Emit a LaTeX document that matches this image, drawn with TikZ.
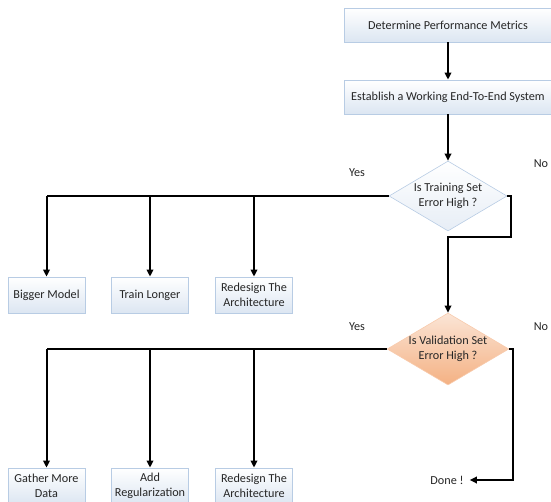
\documentclass[tikz,border=0pt]{standalone}
\usepackage{fontspec}
\setmainfont{Carlito}
\usetikzlibrary{shapes.geometric,positioning,arrows.meta}

\definecolor{boxline}{HTML}{B8CCE4}
\definecolor{boxfill}{HTML}{DCE6F2}
\definecolor{peachtop}{HTML}{FBE5D6}
\definecolor{peachbot}{HTML}{F4B183}
\definecolor{peachline}{HTML}{F8CBAD}
\definecolor{ink}{HTML}{262626}

\tikzset{
  stage/.style={rectangle,draw=boxline,line width=0.8pt,top color=white,bottom color=boxfill,
    minimum width=208pt,minimum height=34pt,inner sep=0pt},
  fix/.style={rectangle,draw=boxline,line width=0.8pt,top color=white,bottom color=boxfill,
    minimum width=77pt,minimum height=36pt,inner sep=0pt,align=center},
  check/.style={diamond,draw=boxline,line width=0.6pt,top color=white,bottom color=boxfill!70,
    minimum width=118pt,minimum height=70pt,aspect=1.69,inner sep=0pt,align=center},
  flow/.style={line width=2pt,-{Triangle[length=7pt,width=6.5pt]}},
  plain/.style={line width=2pt},
  tag/.style={inner sep=0pt}
}

\begin{document}
\begin{tikzpicture}[x=1pt,y=-1pt,font=\fontsize{12.2}{15}\selectfont,text=ink]
  \useasboundingbox (0,0) rectangle (551,501);
  \clip (0,0) rectangle (551,501);

  % main column
  \node[stage] (metrics) at (448,25) {Determine Performance Metrics};
  \node[stage] (system) at (448,97) {Establish a Working End-To-End System};
  \node[check] (train) at (448,196) {Is Training Set\\Error High ?};
  \node[check,top color=peachtop,bottom color=peachbot,draw=peachline] (valid) at (448,349)
    {Is Validation Set\\Error High ?};
  \node[tag] (done) at (447,480) {Done !};

  % fixes for high training error
  \node[fix] (bigger) at (46.5,295) {Bigger Model};
  \node[fix] (longer) at (150,295) {Train Longer};
  \node[fix] (arch1) at (254,295) {Redesign The\\Architecture};

  % fixes for high validation error
  \node[fix] (data) at (46.5,486) {Gather More\\Data};
  \node[fix] (reg) at (150,486) {Add\\Regularization};
  \node[fix] (arch2) at (254,486) {Redesign The\\Architecture};

  % answers
  \node[tag] (yes1) at (357,173) {Yes};
  \node[tag] (no1) at (541,164) {No};
  \node[tag] (yes2) at (357,327) {Yes};
  \node[tag] (no2) at (541,327) {No};

  % junctions on the yes lines
  \coordinate (a1) at (bigger.north |- train.west);
  \coordinate (a2) at (longer.north |- train.west);
  \coordinate (a3) at (arch1.north |- train.west);
  \coordinate (b1) at (data.north |- valid.west);
  \coordinate (b2) at (reg.north |- valid.west);
  \coordinate (b3) at (arch2.north |- valid.west);

  % edges: main column
  \draw[flow] (metrics) -- (system);
  \draw[flow] (system) -- (train);
  \draw[flow] (train.east) -- ++(4,0) -- ++(0,41) -| (valid.north);
  \draw[flow] (valid.east) -- ++(4,0) |- ([xshift=6pt]done.east);

  % edges: yes branches
  \draw[plain] (train.west) -- (a1);
  \draw[flow] (a1) -- (bigger.north);
  \draw[flow] (a2) -- (longer.north);
  \draw[flow] (a3) -- (arch1.north);
  \draw[plain] (valid.west) -- (b1);
  \draw[flow] (b1) -- (data.north);
  \draw[flow] (b2) -- (reg.north);
  \draw[flow] (b3) -- (arch2.north);
\end{tikzpicture}
\end{document}
